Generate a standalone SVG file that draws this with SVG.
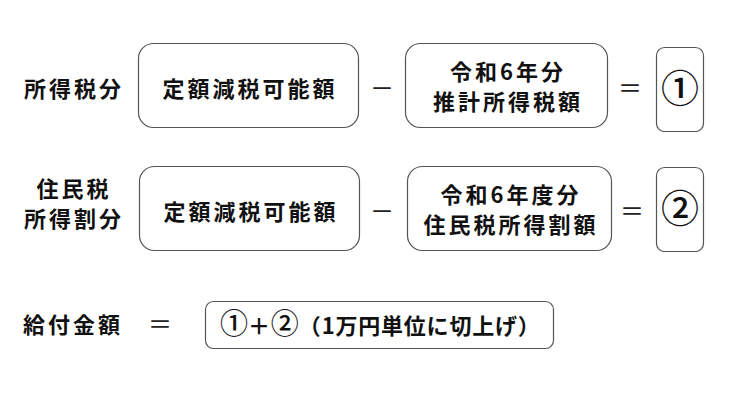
<svg xmlns="http://www.w3.org/2000/svg" width="735" height="413" viewBox="0 0 735 413">
<style>
.bx{fill:#fff;stroke:#555;stroke-width:1.2}
.t{font-family:"Noto Sans CJK JP","Noto Sans CJK SC",sans-serif;font-weight:bold;font-size:22px;fill:#111;text-anchor:middle;letter-spacing:3px}
.c{font-family:"Noto Sans CJK JP",sans-serif;font-weight:500;fill:#111;text-anchor:middle;font-size:38px}
.cs{font-size:28px;font-weight:500;letter-spacing:0}
.op{font-family:"Noto Sans CJK JP",sans-serif;font-size:24px;fill:#222;text-anchor:middle}
</style>
<rect width="735" height="413" fill="#fff"/>
<g id="label1"><text class="t" x="74" y="97">所得税分</text></g>
<g id="box1a"><rect class="bx" x="138.5" y="43.5" width="220" height="84" rx="15"/><text class="t" x="250" y="97">定額減税可能額</text></g>
<g id="box1b"><rect class="bx" x="405.5" y="43.5" width="202" height="84" rx="15"/><text class="t" x="508" y="80">令和6年分</text><text class="t" x="508" y="110">推計所得税額</text></g>
<g id="box1c"><rect class="bx" x="656.5" y="47.5" width="47" height="84" rx="8"/><text class="c" x="680" y="102">①</text></g>
<g id="label2"><text class="t" x="74" y="197">住民税</text><text class="t" x="74" y="227">所得割分</text></g>
<g id="box2a"><rect class="bx" x="139.5" y="166.5" width="220" height="84" rx="15"/><text class="t" x="251" y="220">定額減税可能額</text></g>
<g id="box2b"><rect class="bx" x="407.5" y="166.5" width="204" height="84" rx="15"/><text class="t" x="511" y="203">令和6年度分</text><text class="t" x="511" y="233">住民税所得割額</text></g>
<g id="box2c"><rect class="bx" x="656.5" y="167.5" width="47" height="84" rx="8"/><text class="c" x="680" y="222">②</text></g>
<g id="label3"><text class="t" x="73" y="333">給付金額</text></g>
<g id="box3"><rect class="bx" x="205.5" y="301.5" width="348" height="47" rx="8"/><text class="t" x="220" y="334" style="text-anchor:start;letter-spacing:0.8px"><tspan class="cs">①</tspan>＋<tspan class="cs">②</tspan>（1万円単位に切上げ）</text></g>
<g id="operators">
<text class="op" x="382" y="97">－</text>
<text class="op" x="630" y="97">＝</text>
<text class="op" x="382" y="220">－</text>
<text class="op" x="632" y="220">＝</text>
<text class="op" x="160" y="333">＝</text>
</g>
</svg>
